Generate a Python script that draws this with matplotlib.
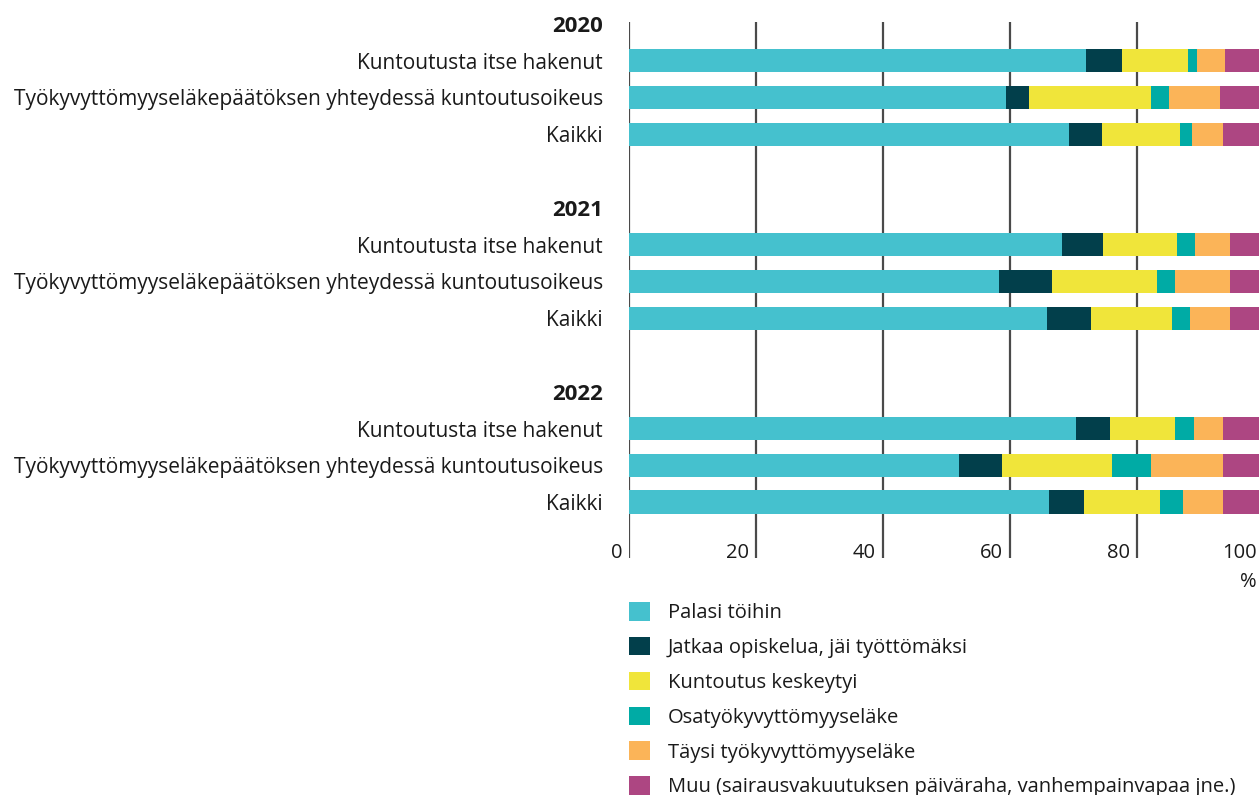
import matplotlib.pyplot as plt
import numpy as np
from matplotlib.patches import Patch
from matplotlib.transforms import offset_copy

plt.rcParams['font.family'] = ['Open Sans', 'DejaVu Sans']

# data (percent of each group)
years = ['2020', '2021', '2022']
groups = ['Kuntoutusta itse hakenut',
          'Työkyvyttömyyseläkepäätöksen yhteydessä kuntoutusoikeus',
          'Kaikki']
outcomes = ['Palasi töihin',
            'Jatkaa opiskelua, jäi työttömäksi',
            'Kuntoutus keskeytyi',
            'Osatyökyvyttömyyseläke',
            'Täysi työkyvyttömyyseläke',
            'Muu (sairausvakuutuksen päiväraha, vanhempainvapaa jne.)']
colors = ['#45C1CE', '#023F4B', '#F0E53A', '#00ABA5', '#FBB458', '#AD4682']

palasi   = [71.9, 59.3, 69.3,  68.2, 58.2, 65.9,  70.4, 52.0, 66.1]
jatkaa   = [5.7, 3.7, 5.2,     6.4, 8.4, 6.8,     5.3, 6.7, 5.5]
keskeytyi = [10.4, 19.2, 12.2, 11.7, 16.5, 12.8,  10.3, 17.3, 12.0]
osa      = [1.5, 2.8, 1.9,     2.8, 2.9, 2.8,     3.0, 6.2, 3.6]
taysi    = [4.3, 8.0, 5.0,     5.5, 8.7, 6.4,     4.6, 11.3, 6.4]
muu      = [6.2, 7.0, 6.4,     5.4, 5.3, 5.3,     6.4, 6.5, 6.4]
series = [palasi, jatkaa, keskeytyi, osa, taysi, muu]

# row layout: header slot, three bars, empty slot
bar_pos, labels_pos, labels_txt, bold = [], [], [], []
for i, yr in enumerate(years):
    base = i * 5
    labels_pos.append(base); labels_txt.append(yr); bold.append(True)
    for j, g in enumerate(groups):
        bar_pos.append(base + 1 + j)
        labels_pos.append(base + 1 + j); labels_txt.append(g); bold.append(False)

W, H = 1259, 795
fig = plt.figure(figsize=(W / 100, H / 100), dpi=100)
ax = fig.add_axes([629 / W, 1 - 558 / H, 635 / W, 536 / H])

left = np.zeros(len(bar_pos))
for vals, c in zip(series, colors):
    ax.barh(bar_pos, vals, left=left, height=0.63, color=c, zorder=3)
    left += np.array(vals)

ax.set_xlim(0, 100)
ax.set_ylim(14.52, -0.05)
for x in [0, 20, 40, 60, 80, 100]:
    ax.axvline(x, color='#4a4a4a', lw=1.6, zorder=1)
for s in ax.spines.values():
    s.set_visible(False)

ax.set_xticks([])
ax.set_yticks(labels_pos)
ax.set_yticklabels(labels_txt, fontsize=15, color='#1a1a1a')
for lab, b in zip(ax.get_yticklabels(), bold):
    if b:
        lab.set_fontweight('bold')
        lab.set_fontsize(16)
ax.tick_params(axis='y', length=0, pad=18.7)

tr = offset_copy(ax.transData, fig=fig, x=-7, y=0, units='dots')
for x in [0, 20, 40, 60, 80, 100]:
    ax.text(x, 14.38, str(x), transform=tr, ha='right', va='center',
            fontsize=14.5, color='#1a1a1a', clip_on=False)
ax.text(100, 15.17, '%', transform=tr, ha='right', va='center',
        fontsize=14.5, color='#1a1a1a', clip_on=False)

handles = [Patch(facecolor=c, edgecolor='none') for c in colors]
fig.legend(handles, outcomes, loc='upper left',
           bbox_to_anchor=(629 / W, 1 - 602 / H), frameon=False,
           fontsize=14.5, handlelength=1.04, handleheight=1.04,
           handletextpad=0.9, labelspacing=0.68, borderpad=0,
           borderaxespad=0, labelcolor='#1a1a1a')

fig.savefig('out.png', dpi=100)
